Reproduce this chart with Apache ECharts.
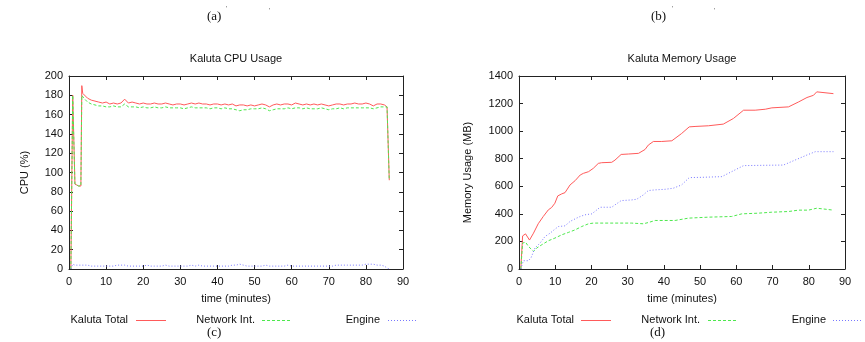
<!DOCTYPE html>
<html>
<head>
<meta charset="utf-8">
<script src="https://cdn.jsdelivr.net/npm/echarts@6/dist/echarts.min.js"></script>
<style>
html,body{margin:0;padding:0;background:#fff;}
#chart{width:865px;height:342px;}
</style>
</head>
<body>
<div id="chart"></div>
<script>
// ---------- DATA ----------
var seriesNames = ['Kaluta Total', 'Network Int.', 'Engine'];
var xTicks = [0, 10, 20, 30, 40, 50, 60, 70, 80, 90];

// CPU usage (%) vs time (minutes)
var cpuTime = [0.5, 1.0, 1.4, 1.6, 2.0, 2.6, 3.2, 3.45, 3.7,
  4, 5, 6, 7, 8, 9, 10, 11, 12, 13,
  14, 15, 16, 17, 18, 19, 20, 21, 22, 23,
  24, 25, 26, 27, 28, 29, 30, 31, 32, 33,
  34, 35, 36, 37, 38, 39, 40, 41, 42, 43,
  44, 45, 46, 47, 48, 49, 50, 51, 52, 53,
  54, 55, 56, 57, 58, 59, 60, 61, 62, 63,
  64, 65, 66, 67, 68, 69, 70, 71, 72, 73,
  74, 75, 76, 77, 78, 79, 80, 81, 82, 83,
  84, 85, 85.7, 86.3];
var cpuTotal = [0, 180, 180, 88, 87, 86, 86, 190, 182,
  180, 177, 175, 174, 173, 172, 173, 171, 172, 171,
  172, 176, 172, 173, 172, 171, 172, 171, 171, 172,
  171, 171, 172, 171, 170, 171, 171, 170, 171, 172,
  171, 172, 171, 171, 170, 171, 171, 170, 171, 170,
  171, 169, 170, 170, 169, 170, 169, 170, 171, 170,
  168, 170, 171, 170, 171, 171, 170, 172, 171, 170,
  171, 170, 171, 170, 171, 170, 169, 170, 171, 171,
  170, 171, 171, 172, 171, 171, 172, 171, 169, 171,
  171, 170, 168, 92];
var cpuNetwork = [0, 180, 180, 88, 87, 86, 86, 180, 178,
  177, 173, 171, 170, 169, 169, 168, 168, 169, 168,
  168, 171, 168, 168, 168, 167, 168, 167, 167, 168,
  167, 167, 168, 167, 167, 167, 167, 166, 167, 168,
  167, 167, 167, 167, 166, 167, 167, 166, 167, 166,
  166, 165, 164, 165, 165, 166, 166, 166, 167, 166,
  164, 165, 166, 166, 166, 167, 166, 167, 167, 166,
  167, 166, 166, 166, 167, 166, 165, 166, 166, 167,
  166, 167, 167, 167, 167, 167, 167, 167, 166, 167,
  168, 168, 168, 92];
var cpuEngine = [0, 5, 5, 4, 4, 4, 4, 4, 4,
  4, 4, 3, 3, 3, 3, 3, 3, 3, 4,
  4, 4, 3, 3, 3, 3, 3, 4, 3, 3,
  3, 3, 4, 3, 3, 3, 3, 3, 3, 4,
  3, 4, 3, 3, 3, 3, 3, 3, 3, 3,
  4, 4, 5, 4, 3, 3, 3, 3, 3, 4,
  3, 3, 3, 3, 3, 4, 3, 3, 3, 3,
  3, 3, 3, 3, 3, 3, 3, 3, 4, 4,
  4, 4, 4, 4, 4, 4, 5, 5, 5, 4,
  4, 3, 1, 0];

// Memory usage (MB) vs time (minutes)
var memTotalTime = [0.5, 1.0, 1.8, 2.9, 4.0, 5.3, 6.7, 8.1, 9.0, 9.9, 10.7, 11.8, 12.7, 14.1, 15.5, 16.9, 17.8, 19.2, 20.5, 21.9, 22.8, 25.6, 26.5, 28.2, 30.2, 33.0, 34.8, 35.7, 37.1, 39.4, 42.2, 44.9, 47.0, 48.6, 52.3, 56.4, 59.2, 62.0, 65.2, 68.0, 69.8, 74.4, 77.2, 79.5, 81.3, 82.2, 82.7, 86.8];
var memTotal = [0, 240, 255, 210, 260, 328, 381, 429, 446, 477, 530, 545, 554, 610, 641, 682, 694, 706, 730, 766, 771, 774, 790, 831, 834, 839, 867, 899, 925, 925, 930, 983, 1031, 1034, 1039, 1051, 1092, 1152, 1152, 1159, 1169, 1176, 1212, 1244, 1260, 1285, 1272, 1272];

var memNetTime = [0.5, 1.0, 1.8, 2.6, 4.0, 4.9, 6.3, 8.1, 9.9, 11.8, 13.6, 15.5, 17.3, 19.2, 20.5, 31.1, 34.3, 35.7, 37.6, 43.1, 46.8, 52.3, 58.7, 61.5, 66.1, 69.8, 74.4, 77.2, 79.9, 82.2, 82.7, 86.8];
var memNetwork = [0, 188, 195, 164, 128, 152, 176, 205, 224, 248, 265, 284, 308, 328, 333, 333, 328, 337, 352, 352, 369, 376, 381, 400, 405, 412, 417, 427, 427, 441, 427, 427];

var memEngTime = [0.5, 1.2, 2.6, 3.3, 4.4, 5.8, 7.2, 8.6, 9.9, 10.9, 12.7, 14.1, 15.9, 16.9, 18.2, 20.1, 21.5, 22.4, 25.6, 26.5, 28.2, 31.1, 32.5, 34.3, 35.7, 37.6, 40.3, 42.6, 44.9, 47.0, 50.5, 56.0, 57.8, 62.0, 67.0, 73.0, 76.2, 79.5, 81.8, 86.8];
var memEngine = [0, 60, 60, 80, 152, 188, 236, 260, 289, 308, 313, 345, 369, 381, 393, 400, 429, 448, 448, 465, 496, 501, 506, 537, 569, 574, 578, 586, 610, 663, 665, 670, 694, 750, 752, 754, 790, 827, 851, 851];

// ---------- CHART ----------
function pairs(t, v) { return t.map(function (x, i) { return [x, v[i]]; }); }

var FONT = 'Liberation Sans, Arial, Helvetica, sans-serif';
var SERIF = 'Liberation Serif, Times New Roman, serif';
var AX = '#222';
var colors = ['#ff5a5a', '#4ee84e', '#7878ff'];
var lineTypes = ['solid', [3, 2], [1, 2]];

function xAx(grid, top) {
  return {
    type: 'value', gridIndex: grid, position: top ? 'top' : 'bottom',
    min: xTicks[0], max: xTicks[xTicks.length - 1], interval: 10,
    name: top ? '' : 'time (minutes)', nameLocation: 'middle', nameGap: 24,
    nameTextStyle: { fontFamily: FONT, fontSize: 11, color: '#111' },
    axisLine: { show: true, onZero: false, lineStyle: { color: AX, width: 1 } },
    axisTick: { show: true, inside: true, length: 4, lineStyle: { color: AX } },
    axisLabel: { show: !top, margin: 7, fontFamily: FONT, fontSize: 11, color: '#111',
      formatter: function (v) { return String(v); } },
    splitLine: { show: false }
  };
}
function yAx(grid, right, max, interval, name, gap) {
  return {
    type: 'value', gridIndex: grid, position: right ? 'right' : 'left',
    min: 0, max: max, interval: interval,
    name: right ? '' : name, nameLocation: 'middle', nameGap: gap,
    nameTextStyle: { fontFamily: FONT, fontSize: 11, color: '#111' },
    axisLine: { show: true, onZero: false, lineStyle: { color: AX, width: 1 } },
    axisTick: { show: true, inside: true, length: 4, lineStyle: { color: AX } },
    axisLabel: { show: !right, margin: 6, fontFamily: FONT, fontSize: 11, color: '#111',
      formatter: function (v) { return String(v); } },
    splitLine: { show: false }
  };
}
function line(name, idx, data, xi, yi) {
  return {
    type: 'line', name: name, xAxisIndex: xi, yAxisIndex: yi, data: data,
    showSymbol: false, symbol: 'none', animation: false,
    lineStyle: { color: colors[idx], width: 1, type: lineTypes[idx] },
    itemStyle: { color: colors[idx] }
  };
}

// key (gnuplot style: right-aligned text, then a line sample)
var keyTextRight = [128, 255, 380, 574, 700, 826];
var keyLineStart = [136, 262, 388, 581, 708, 833];
var keyY = 320;
var keyGraphics = [];
for (var k = 0; k < 6; k++) {
  var idx = k % 3;
  keyGraphics.push({
    type: 'text', x: keyTextRight[k], y: keyY,
    style: { text: seriesNames[idx], font: '11px ' + FONT, fill: '#111',
      align: 'right', verticalAlign: 'middle' }
  });
  keyGraphics.push({
    type: 'line',
    shape: { x1: keyLineStart[k], y1: keyY + 0.5, x2: Math.min(keyLineStart[k] + 30, 864), y2: keyY + 0.5 },
    style: { stroke: colors[idx], lineWidth: 1,
      lineDash: idx === 0 ? null : lineTypes[idx] }
  });
}

var chart = echarts.init(document.getElementById('chart'), null, { renderer: 'canvas' });
chart.setOption({
  backgroundColor: '#fff',
  animation: false,
  title: [
    { text: 'Kaluta CPU Usage', left: 236, top: 53, textAlign: 'center', padding: 0,
      textStyle: { fontFamily: FONT, fontSize: 11, fontWeight: 'normal', color: '#111' } },
    { text: 'Kaluta Memory Usage', left: 682, top: 53, textAlign: 'center', padding: 0,
      textStyle: { fontFamily: FONT, fontSize: 11, fontWeight: 'normal', color: '#111' } }
  ],
  grid: [
    { left: 69, right: 462, top: 76, bottom: 73 },
    { left: 519, right: 20, top: 76, bottom: 73 }
  ],
  xAxis: [xAx(0, false), xAx(0, true), xAx(1, false), xAx(1, true)],
  yAxis: [
    yAx(0, false, 200, 20, 'CPU (%)', 39), yAx(0, true, 200, 20, '', 0),
    yAx(1, false, 1400, 200, 'Memory Usage (MB)', 46), yAx(1, true, 1400, 200, '', 0)
  ],
  series: [
    line(seriesNames[0], 0, pairs(cpuTime, cpuTotal), 0, 0),
    line(seriesNames[1], 1, pairs(cpuTime, cpuNetwork), 0, 0),
    line(seriesNames[2], 2, pairs(cpuTime, cpuEngine), 0, 0),
    line(seriesNames[0], 0, pairs(memTotalTime, memTotal), 2, 2),
    line(seriesNames[1], 1, pairs(memNetTime, memNetwork), 2, 2),
    line(seriesNames[2], 2, pairs(memEngTime, memEngine), 2, 2)
  ],
  graphic: [
    { type: 'text', left: 207, top: 10, style: { text: '(a)', font: '13px ' + SERIF, fill: '#111' } },
    { type: 'text', left: 226, top: 6, style: { text: "'", font: '7px ' + FONT, fill: '#666' } },
    { type: 'text', left: 269, top: 8, style: { text: "'", font: '7px ' + FONT, fill: '#666' } },
    { type: 'text', left: 651, top: 10, style: { text: '(b)', font: '13px ' + SERIF, fill: '#111' } },
    { type: 'text', left: 672, top: 6, style: { text: "'", font: '7px ' + FONT, fill: '#666' } },
    { type: 'text', left: 714, top: 8, style: { text: "'", font: '7px ' + FONT, fill: '#666' } },
    { type: 'text', left: 207, top: 326, style: { text: '(c)', font: '13px ' + SERIF, fill: '#111' } },
    { type: 'text', left: 650, top: 326, style: { text: '(d)', font: '13px ' + SERIF, fill: '#111' } }
  ].concat(keyGraphics)
});
</script>
</body>
</html>
